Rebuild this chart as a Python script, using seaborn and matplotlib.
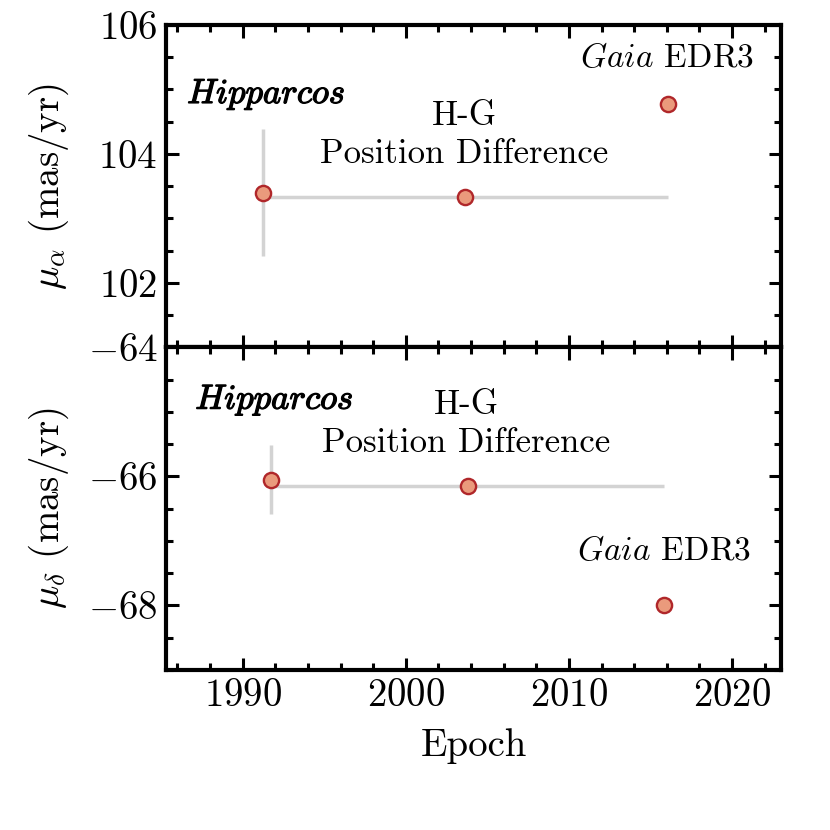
import numpy as np
import pandas as pd
import matplotlib
matplotlib.use("Agg")
import matplotlib.pyplot as plt
import matplotlib.patheffects as pe
import seaborn as sns
from matplotlib.ticker import MultipleLocator

# Datos: (época, valor, error)
componentes = ["ra", "dec"]
etiquetas_y = [r"$\mu_\alpha$ (mas/yr)", r"$\mu_\delta$ (mas/yr)"]
limites_y = [(101, 106), (-69, -64)]
ticks_y = [[102, 104, 106], [-68, -66, -64]]

hip_epoca = [1991.25, 1991.72]
hip_valor = [103.40, -66.05]
hip_err = [0.98, 0.54]

gaia_epoca = [2016.05, 2015.85]
gaia_valor = [104.78, -68.00]

hg_valor = [103.33, -66.15]

# posiciones de los textos (coordenadas de datos)
txt_hip = [(1986.6, 104.91), (1987.1, -64.83)]
txt_hg1 = [(2003.6, 104.58), (2003.7, -64.90)]
txt_hg2 = [(2003.6, 104.0), (2003.7, -65.48)]
txt_gaia = [(2016.0, 105.49), (2015.8, -67.16)]

sns.set_theme(style="ticks")
plt.rcParams["font.family"] = "serif"
plt.rcParams["font.serif"] = ["cmr10"]
plt.rcParams["mathtext.fontset"] = "cm"
plt.rcParams["axes.formatter.use_mathtext"] = True
plt.rcParams["axes.unicode_minus"] = True
plt.rcParams["text.color"] = "black"
plt.rcParams["axes.labelcolor"] = "black"
plt.rcParams["axes.edgecolor"] = "black"
plt.rcParams["xtick.color"] = "black"
plt.rcParams["ytick.color"] = "black"

fig, axes = plt.subplots(2, 1, figsize=(8.3, 8.3), dpi=100, sharex=True)
fig.subplots_adjust(left=0.2, right=0.941, top=0.970, bottom=0.193, hspace=0)

for i, ax in enumerate(axes):
    hg_epoca = (hip_epoca[i] + gaia_epoca[i]) / 2
    hg_xerr = (gaia_epoca[i] - hip_epoca[i]) / 2
    # barras de error
    ax.errorbar(hip_epoca[i], hip_valor[i], yerr=hip_err[i], fmt="none",
                ecolor="#d3d3d3", elinewidth=2.5, zorder=1)
    ax.errorbar(hg_epoca, hg_valor[i], xerr=hg_xerr, fmt="none",
                ecolor="#d3d3d3", elinewidth=2.5, zorder=1)
    df = pd.DataFrame({"epoca": [hip_epoca[i], hg_epoca, gaia_epoca[i]],
                       "valor": [hip_valor[i], hg_valor[i], gaia_valor[i]]})
    sns.scatterplot(data=df, x="epoca", y="valor", ax=ax, s=120,
                    color="#ea9a7c", edgecolor="#b0272a", linewidth=1.7,
                    zorder=3)

    ax.text(*txt_hip[i], r"$\mathit{Hipparcos}$", fontsize=25,
            ha="left", va="center",
            path_effects=[pe.withStroke(linewidth=0.9, foreground="black")])
    ax.text(*txt_hg1[i], "H-G", fontsize=25, ha="center", va="center")
    ax.text(*txt_hg2[i], "Position Difference", fontsize=25,
            ha="center", va="center")
    ax.text(*txt_gaia[i], r"$\mathit{Gaia}$ EDR3", fontsize=24,
            ha="center", va="center")

    ax.set_xlim(1985.3, 2023)
    ax.set_ylim(*limites_y[i])
    ax.set_yticks(ticks_y[i])
    ax.yaxis.set_minor_locator(MultipleLocator(0.5))
    ax.xaxis.set_major_locator(MultipleLocator(10))
    ax.xaxis.set_minor_locator(MultipleLocator(2))
    ax.set_ylabel(etiquetas_y[i], fontsize=28, labelpad=12)
    ax.set_xlabel("")
    ax.tick_params(which="both", direction="in", top=True, right=True,
                   labelsize=28, width=2.2, pad=6)
    ax.tick_params(which="major", length=9)
    ax.tick_params(which="minor", length=5)
    for s in ax.spines.values():
        s.set_linewidth(3)

axes[1].set_xlabel("Epoch", fontsize=28, labelpad=10)
fig.align_ylabels(axes)

plt.savefig("out.png")
